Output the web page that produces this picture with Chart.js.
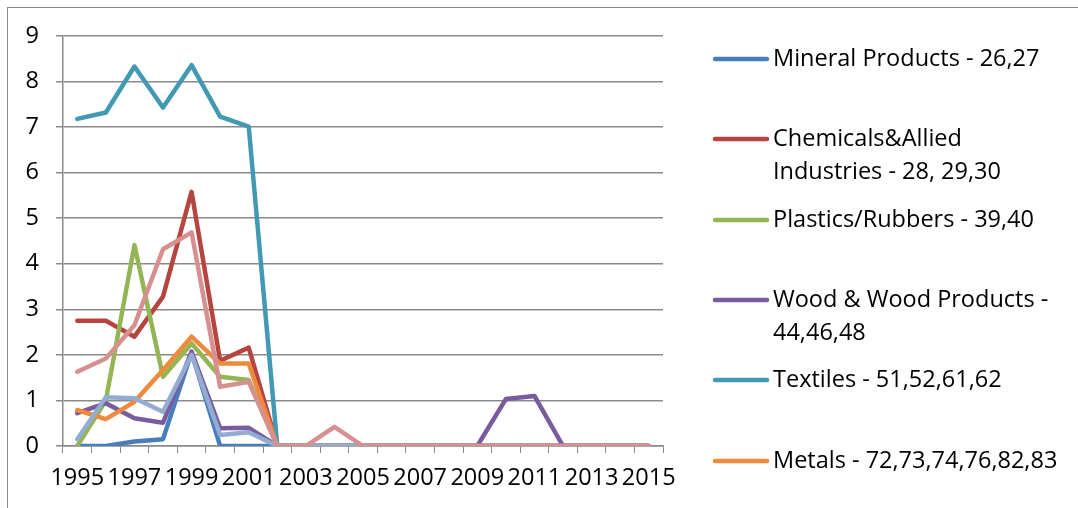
<!DOCTYPE html>
<html lang="en">
<head>
  <meta charset="UTF-8" />
  <title>Series by product group</title>
  <script src="https://cdn.jsdelivr.net/npm/chart.js"></script>
  <style>
    body {
      margin: 0;
      background: #fff;
    }
    .wrap {
      width: 1078px;
      height: 508px;
      position: relative;
    }
  </style>
</head>
<body>

<div class="wrap">
  <canvas id="grafico" width="1078" height="508"></canvas>
</div>

<script>
  const years = ['1995','1996','1997','1998','1999','2000','2001','2002','2003','2004','2005',
                 '2006','2007','2008','2009','2010','2011','2012','2013','2014','2015'];

  const seriesNames = [
    'Mineral Products - 26,27',
    'Chemicals&Allied Industries - 28, 29,30',
    'Plastics/Rubbers - 39,40',
    'Wood & Wood Products - 44,46,48',
    'Textiles - 51,52,61,62',
    'Metals - 72,73,74,76,82,83',
    'Machinery/Electrical - 84,85',
    'Transportation - 86,87,88,89'
  ];

  const mineral    = [0, 0, 0.1, 0.15, 2.05, 0, 0, 0, 0, 0, 0, 0, 0, 0, 0, 0, 0, 0, 0, 0, 0];
  const chemicals  = [2.75, 2.75, 2.4, 3.28, 5.58, 1.87, 2.16, 0, 0, 0, 0, 0, 0, 0, 0, 0, 0, 0, 0, 0, 0];
  const plastics   = [0, 1.0, 4.41, 1.52, 2.25, 1.52, 1.45, 0, 0, 0, 0, 0, 0, 0, 0, 0, 0, 0, 0, 0, 0];
  const wood       = [0.72, 0.94, 0.61, 0.51, 2.07, 0.39, 0.4, 0, 0, 0, 0, 0, 0, 0, 0, 1.03, 1.1, 0, 0, 0, 0];
  const textiles   = [7.18, 7.32, 8.33, 7.43, 8.36, 7.23, 7.01, 0, 0, 0, 0, 0, 0, 0, 0, 0, 0, 0, 0, 0, 0];
  const metals     = [0.79, 0.59, 0.97, 1.67, 2.4, 1.81, 1.81, 0, 0, 0, 0, 0, 0, 0, 0, 0, 0, 0, 0, 0, 0];
  const machinery  = [0.15, 1.07, 1.05, 0.75, 2.0, 0.24, 0.3, 0, 0, 0, 0, 0, 0, 0, 0, 0, 0, 0, 0, 0, 0];
  const transport  = [1.63, 1.92, 2.65, 4.32, 4.69, 1.3, 1.41, 0, 0, 0.42, 0, 0, 0, 0, 0, 0, 0, 0, 0, 0, 0];

  const colores = ['#4A7EBB', '#B7453F', '#94B553', '#7A5C9E', '#4199B3', '#EE8A3C', '#93ACD4', '#D6908F'];
  const valores = [mineral, chemicals, plastics, wood, textiles, metals, machinery, transport];

  const fuente = '"Open Sans", sans-serif';
  const gris = '#8a8a8a';

  // leyenda a la derecha (solo caben las 6 primeras, como en el original)
  const leyendaPlugin = {
    id: 'leyenda',
    afterDraw(chart) {
      const ctx = chart.ctx;
      const posY = [59, 139, 220, 300, 380, 461];
      ctx.save();
      ctx.font = '23.5px ' + fuente;
      ctx.textBaseline = 'middle';
      ctx.fillStyle = '#000';
      posY.forEach((y, i) => {
        ctx.strokeStyle = colores[i];
        ctx.lineWidth = 4.5;
        ctx.lineCap = 'round';
        ctx.beginPath();
        ctx.moveTo(715, y);
        ctx.lineTo(767, y);
        ctx.stroke();
        // partir el texto en líneas
        const palabras = seriesNames[i].split(' ');
        const lineas = [];
        let actual = '';
        palabras.forEach(p => {
          const prueba = actual ? actual + ' ' + p : p;
          if (ctx.measureText(prueba).width > 296 && actual) {
            lineas.push(actual);
            actual = p;
          } else {
            actual = prueba;
          }
        });
        lineas.push(actual);
        lineas.forEach((t, k) => ctx.fillText(t, 773, y + k * 33));
      });
      ctx.restore();
    }
  };

  // borde exterior del gráfico
  const bordePlugin = {
    id: 'borde',
    beforeDraw(chart) {
      const ctx = chart.ctx;
      ctx.save();
      ctx.strokeStyle = gris;
      ctx.lineWidth = 1;
      ctx.strokeRect(7.5, 7.5, 1200, 1200);
      ctx.restore();
    }
  };

  new Chart(document.getElementById('grafico').getContext('2d'), {
    type: 'line',
    data: {
      labels: years,
      datasets: valores.map((d, i) => ({
        label: seriesNames[i],
        data: d,
        borderColor: colores[i],
        backgroundColor: colores[i],
        borderWidth: 4.5,
        pointRadius: 0,
        tension: 0,
        borderJoinStyle: 'round',
        borderCapStyle: 'round',
        order: -i
      }))
    },
    options: {
      responsive: false,
      animation: false,
      layout: { padding: { top: 36, right: 415, bottom: 0, left: 0 } },
      plugins: {
        legend: { display: false },
        tooltip: { enabled: false }
      },
      scales: {
        x: {
          offset: true,
          grid: {
            offset: true,
            drawOnChartArea: false,
            drawTicks: true,
            tickLength: 7,
            color: gris
          },
          border: { display: true, color: gris, width: 1.5 },
          ticks: {
            autoSkip: false,
            maxRotation: 0,
            padding: 11,
            color: '#000',
            font: { family: fuente, size: 23.5 },
            callback: function (v, i) { return i % 2 === 0 ? this.getLabelForValue(v) : ''; }
          },
          afterFit(scale) { scale.height = 62; }
        },
        y: {
          min: 0,
          max: 9,
          grid: {
            color: gris,
            lineWidth: 1.5,
            drawTicks: true,
            tickLength: 7
          },
          border: { display: true, color: gris, width: 1.5 },
          ticks: {
            stepSize: 1,
            padding: 17,
            color: '#000',
            font: { family: fuente, size: 23.5 }
          },
          afterFit(scale) { scale.width = 63; }
        }
      }
    },
    plugins: [bordePlugin, leyendaPlugin]
  });
</script>

</body>
</html>
